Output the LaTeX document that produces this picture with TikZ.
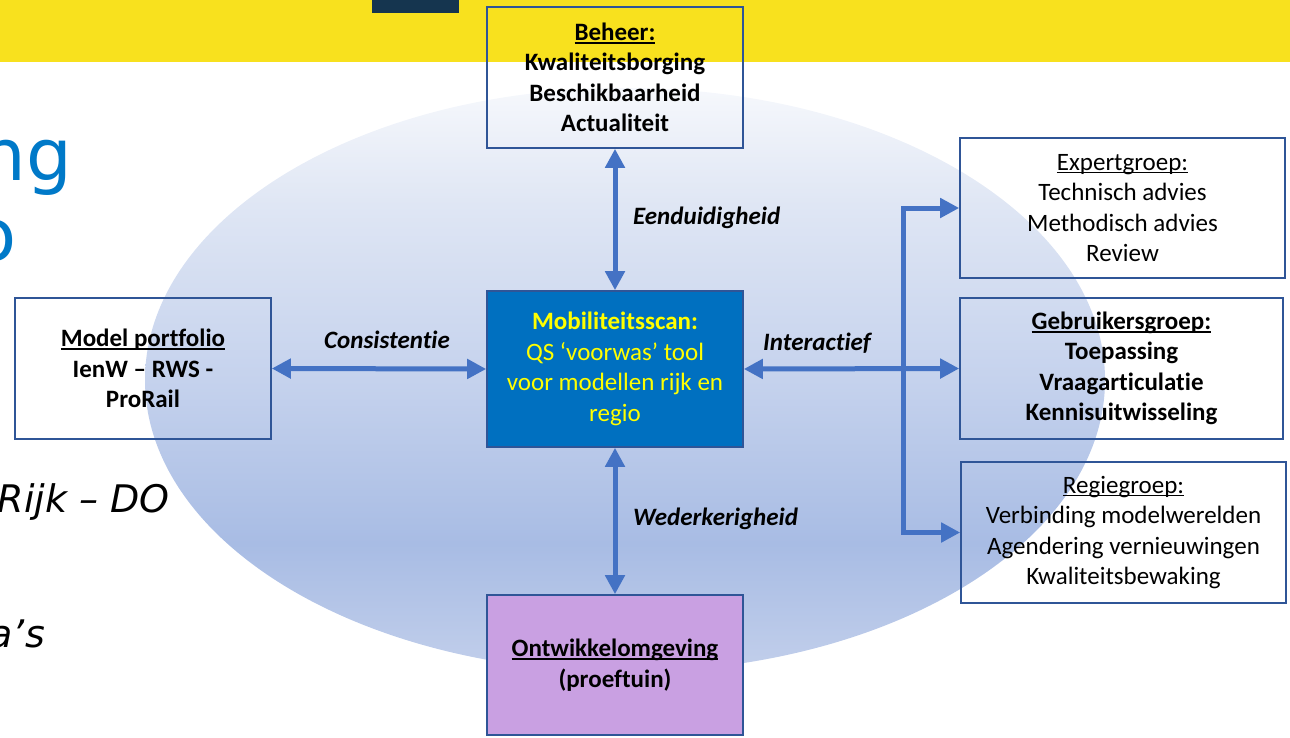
\documentclass[tikz,border=0pt]{standalone}
\usepackage{fontspec}
\setmainfont{Carlito}[Ligatures={NoCommon}]
\newfontfamily\slidefont{DejaVu Sans}
\usetikzlibrary{arrows.meta}
\definecolor{slideyellow}{HTML}{F8E11E}
\definecolor{navy}{HTML}{15354F}
\definecolor{bord}{HTML}{2F5597}
\definecolor{arrc}{HTML}{4472C4}
\definecolor{mobfill}{HTML}{0070C0}
\definecolor{ontfill}{HTML}{C9A0E2}
\definecolor{mobtext}{HTML}{FFFF00}
\definecolor{slideblue}{HTML}{0079C8}
\definecolor{eA}{HTML}{C2CFEB}
\definecolor{eB}{HTML}{A8BCE4}
\definecolor{eC}{HTML}{C5D2ED}
\definecolor{eD}{HTML}{DFE6F4}
\definecolor{eE}{HTML}{F6F8FC}
\pgfdeclareverticalshading{ellsh}{100bp}{color(0bp)=(eA); color(25bp)=(eA); color(36bp)=(eB); color(50bp)=(eC); color(65bp)=(eD); color(75bp)=(eE); color(100bp)=(eE)}
\newcommand{\uln}[1]{\setbox0=\hbox{#1}\rlap{\rule[-3.2pt]{\wd0}{1.6pt}}\box0}
\tikzset{
  box/.style={draw=bord, line width=1.6pt, inner sep=0pt, align=center,
    font=\fontsize{25}{30.5}\selectfont},
  conn/.style={draw=arrc, line width=5pt},
  both/.style={{Triangle[length=19pt,width=19pt]}-{Triangle[length=19pt,width=19pt]}},
  lbl/.style={font=\fontsize{25}{29}\selectfont\bfseries\itshape, inner sep=0pt},
  slidetxt/.style={anchor=base east, inner sep=0pt},
}
\begin{document}
\begin{tikzpicture}[x=1pt,y=-1pt]
\useasboundingbox (0,0) rectangle (1290,737);
\begin{scope}
\clip (0,0) rectangle (1290,737);
% background
\fill[fill=slideyellow] (0,0) rectangle (1290,62);
\fill[fill=navy] (372,0) rectangle (459,13);
\shade[shading=ellsh] (625,380) ellipse [x radius=480pt, y radius=292pt];
% slide text fragments
\node[slidetxt, text=slideblue, font=\slidefont\fontsize{72}{80}\selectfont] (s1) at (72,180) {ng};
\node[slidetxt, text=slideblue, font=\slidefont\fontsize{72}{80}\selectfont] (s2) at (17,260) {o};
\node[slidetxt, font=\slidefont\itshape\fontsize{38}{42}\selectfont] (s3) at (170,512) {Rijk – DO};
\node[slidetxt, font=\slidefont\itshape\fontsize{38}{42}\selectfont] (s4) at (45,647) {a’s};
\end{scope}
% boxes
\node[box, minimum width=256pt, minimum height=141pt] (beh) at (615,77.5)
  {\bfseries\uln{Beheer:}\\ \bfseries Kwaliteitsborging\\ \bfseries Beschikbaarheid\\ \bfseries Actualiteit};
\node[box, fill=mobfill, text=mobtext, minimum width=256pt, minimum height=156pt] (mob) at (615,369)
  {\bfseries Mobiliteitsscan:\\ QS ‘voorwas’ tool\\ voor modellen rijk en\\ regio};
\node[box, fill=ontfill, minimum width=256pt, minimum height=140pt] (ont) at (615,665)
  {\bfseries\uln{Ontwikkelomgeving}\\ \bfseries (proeftuin)};
\node[box, minimum width=256pt, minimum height=141pt] (mp) at (143,368.5)
  {\bfseries\uln{Model portfolio}\\ \bfseries IenW – RWS -\\ \bfseries ProRail};
\node[box, minimum width=325pt, minimum height=140pt] (exp) at (1122.5,208)
  {\uln{Expertgroep:}\\ Technisch advies\\ Methodisch advies\\ Review};
\node[box, minimum width=323pt, minimum height=141pt] (geb) at (1121.5,368.5)
  {\bfseries\uln{Gebruikersgroep:}\\ \bfseries Toepassing\\ \bfseries Vraagarticulatie\\ \bfseries Kennisuitwisseling};
\node[box, minimum width=325pt, minimum height=141pt] (reg) at (1123.5,532.5)
  {\uln{Regiegroep:}\\ Verbinding modelwerelden\\ Agendering vernieuwingen\\ Kwaliteitsbewaking};
% connectors
\coordinate (busb) at (903,532.5);
\draw[conn, both] (beh.south) -- (mob.north);
\draw[conn, both] (mob.south) -- (ont.north);
\draw[conn, both] (mp.east) -- (mob.west);
\draw[conn, both] (mob.east) -- (geb.west);
\draw[conn, both] (exp.west) -| (busb) -- (reg.west);
% labels
\node[lbl, anchor=base west] (l1) at (633,224) {Eenduidigheid};
\node[lbl, anchor=base] (l2) at (387,348) {Consistentie};
\node[lbl, anchor=base west] (l3) at (763,350) {Interactief};
\node[lbl, anchor=base west] (l4) at (633,525) {Wederkerigheid};
\end{tikzpicture}
\end{document}
